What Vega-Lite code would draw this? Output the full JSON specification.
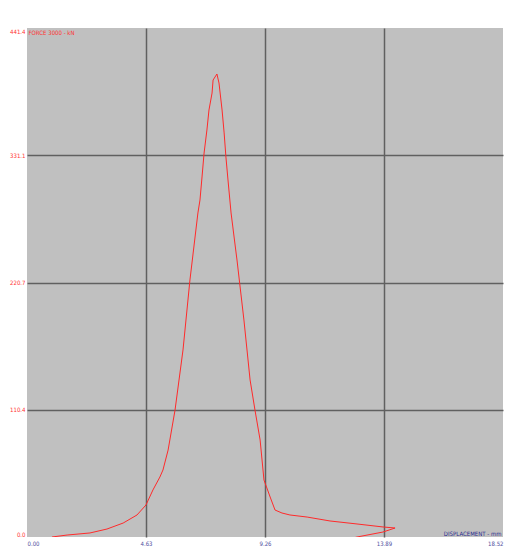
{
  "$schema": "https://vega.github.io/schema/vega-lite/v6.json",
  "autosize": "none",
  "padding": {"left": 27, "top": 28, "right": 7, "bottom": 9},
  "width": 476,
  "height": 509,
  "background": "white",
  "config": {
    "view": {"fill": "#c0c0c0", "stroke": null},
    "font": "Liberation Sans Narrow, DejaVu Sans Condensed, Liberation Sans"
  },
  "data": {
    "values": [
      {"i": 1, "d": 0.97, "f": 0},
      {"i": 2, "d": 1.56, "f": 1.7},
      {"i": 3, "d": 2.45, "f": 3.5},
      {"i": 4, "d": 3.11, "f": 6.9},
      {"i": 5, "d": 3.74, "f": 12.1},
      {"i": 6, "d": 4.28, "f": 19.1},
      {"i": 7, "d": 4.63, "f": 27.8},
      {"i": 8, "d": 4.90, "f": 40.8},
      {"i": 9, "d": 5.17, "f": 52.0},
      {"i": 10, "d": 5.29, "f": 58.1},
      {"i": 11, "d": 5.49, "f": 75.4},
      {"i": 12, "d": 5.76, "f": 110.1},
      {"i": 13, "d": 6.07, "f": 162.2},
      {"i": 14, "d": 6.34, "f": 222.9},
      {"i": 15, "d": 6.65, "f": 281.0},
      {"i": 16, "d": 6.73, "f": 292.2},
      {"i": 17, "d": 6.81, "f": 312.2},
      {"i": 18, "d": 6.89, "f": 333.0},
      {"i": 19, "d": 7.00, "f": 352.9},
      {"i": 20, "d": 7.08, "f": 370.3},
      {"i": 21, "d": 7.20, "f": 385.0},
      {"i": 22, "d": 7.24, "f": 396.3},
      {"i": 23, "d": 7.39, "f": 401.5},
      {"i": 24, "d": 7.47, "f": 393.7},
      {"i": 25, "d": 7.59, "f": 370.3},
      {"i": 26, "d": 7.67, "f": 350.4},
      {"i": 27, "d": 7.74, "f": 329.5},
      {"i": 28, "d": 7.82, "f": 309.6},
      {"i": 29, "d": 7.94, "f": 281.0},
      {"i": 30, "d": 8.17, "f": 240.2},
      {"i": 31, "d": 8.44, "f": 188.2},
      {"i": 32, "d": 8.68, "f": 136.2},
      {"i": 33, "d": 8.87, "f": 110.1},
      {"i": 34, "d": 9.07, "f": 84.1},
      {"i": 35, "d": 9.22, "f": 49.4},
      {"i": 36, "d": 9.46, "f": 34.7},
      {"i": 37, "d": 9.65, "f": 23.4},
      {"i": 38, "d": 9.92, "f": 20.8},
      {"i": 39, "d": 10.23, "f": 19.1},
      {"i": 40, "d": 10.90, "f": 17.3},
      {"i": 41, "d": 11.79, "f": 13.9},
      {"i": 42, "d": 12.84, "f": 11.3},
      {"i": 43, "d": 13.85, "f": 8.7},
      {"i": 44, "d": 14.32, "f": 7.8},
      {"i": 45, "d": 13.85, "f": 4.3},
      {"i": 46, "d": 12.84, "f": 0},
      {"i": 47, "d": 12.40, "f": -2.5}
    ]
  },
  "mark": {"type": "line", "color": "#ff2a2a", "strokeWidth": 1, "clip": true},
  "encoding": {
    "order": {"field": "i", "type": "quantitative"},
    "x": {
      "field": "d",
      "type": "quantitative",
      "scale": {"domain": [0, 18.52], "nice": false, "zero": false},
      "axis": {
        "values": [0, 4.63, 9.26, 13.89, 18.52],
        "format": ".2f",
        "labelFlush": true,
        "labelColor": "#5050a0",
        "labelFontSize": 6,
        "labelPadding": 3,
        "ticks": false,
        "domain": false,
        "grid": true,
        "gridColor": "#606060",
        "gridWidth": 1.5,
        "gridOpacity": {"condition": {"test": "datum.value <= 0 || datum.value >= 18.5", "value": 0}, "value": 1},
        "title": "DISPLACEMENT - mm",
        "titleColor": "#2b2b8f",
        "titleFontSize": 6,
        "titleFontWeight": "normal",
        "titleAlign": "right",
        "titleBaseline": "bottom",
        "titleX": 474,
        "titleY": -1
      }
    },
    "y": {
      "field": "f",
      "type": "quantitative",
      "scale": {"domain": [0, 441.4], "nice": false, "zero": false},
      "axis": {
        "values": [0, 110.4, 220.7, 331.1, 441.4],
        "format": ".1f",
        "labelFlush": true,
        "labelColor": "#ff3030",
        "labelFontSize": 6,
        "labelPadding": 2,
        "ticks": false,
        "domain": false,
        "grid": true,
        "gridColor": "#606060",
        "gridWidth": 1.5,
        "gridOpacity": {"condition": {"test": "datum.value <= 0 || datum.value >= 441", "value": 0}, "value": 1},
        "title": "FORCE 3000 - kN",
        "titleColor": "#ff3030",
        "titleFontSize": 6,
        "titleFontWeight": "normal",
        "titleAngle": 0,
        "titleAlign": "left",
        "titleBaseline": "top",
        "titleX": 1,
        "titleY": 1
      }
    }
  }
}
